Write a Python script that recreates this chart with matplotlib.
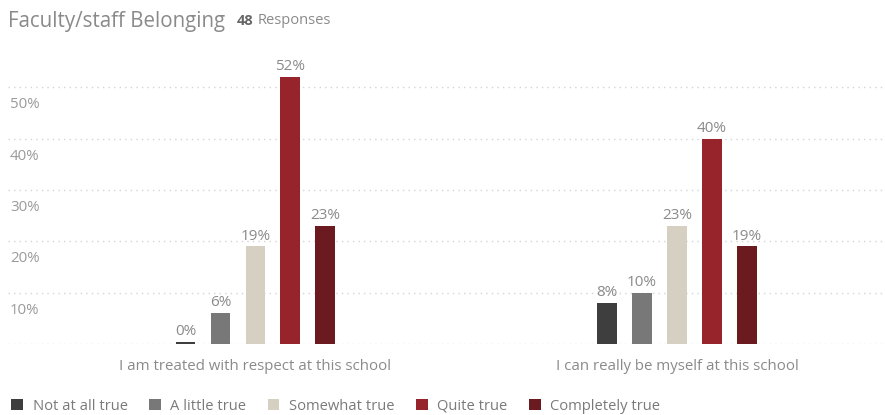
import numpy as np
import matplotlib
matplotlib.use("Agg")
import matplotlib.pyplot as plt
from matplotlib.transforms import ScaledTranslation
from matplotlib.patches import Patch

plt.rcParams['font.family'] = ['Open Sans', 'DejaVu Sans']

questions = ["I am treated with respect at this school",
             "I can really be myself at this school"]
answers = ["Not at all true", "A little true", "Somewhat true",
           "Quite true", "Completely true"]
# percent of responses, one list per answer
not_at_all = [0, 8]
a_little = [6, 10]
somewhat = [19, 23]
quite = [52, 40]
completely = [23, 19]
series = [not_at_all, a_little, somewhat, quite, completely]
colors = ["#3e3e3e", "#787878", "#d6d0c2", "#97242a", "#6b1a1f"]
yticks = [10, 20, 30, 40, 50]

fig = plt.figure(figsize=(8.85, 4.15), dpi=100)
ax = fig.add_axes([8 / 885, 71 / 415, 875 / 885, 289 / 415])

x = np.arange(len(questions))
step = 0.083
width = 0.047
for i, (vals, col) in enumerate(zip(series, colors)):
    pos = x + (i - 2) * step
    bars = ax.bar(pos, vals, width, color=col, zorder=3, label=answers[i])
    for b, v in zip(bars, vals):
        h = max(v, 0.4)
        if v == 0:
            b.set_height(h)
        ax.annotate(f"{v}%", (b.get_x() + b.get_width() / 2, h),
                    xytext=(0, 2), textcoords="offset points",
                    ha="center", va="bottom", fontsize=11, color="#8a8a8a")

ax.set_xlim(-0.587, 1.489)
ax.set_ylim(0, 56.3)

for y in [0] + yticks:
    ax.axhline(y, color="#d4d4d4", lw=1, ls=(0, (1, 3)), zorder=1)

ax.set_yticks(yticks)
ax.set_yticklabels([f"{t}%" for t in yticks])
ax.tick_params(axis="y", length=0, pad=0, labelsize=10.8, labelcolor="#9a9a9a")
shift = ScaledTranslation(0.02, -0.155, fig.dpi_scale_trans)
for lab in ax.get_yticklabels():
    lab.set_horizontalalignment("left")
    lab.set_transform(lab.get_transform() + shift)

ax.set_xticks(x)
ax.set_xticklabels(questions)
ax.tick_params(axis="x", length=0, pad=11, labelsize=10.8, labelcolor="#8a8a8a")

for s in ax.spines.values():
    s.set_visible(False)

fig.text(8 / 885, 1 - 21 / 415, "Faculty/staff Belonging", fontsize=14.8,
         color="#8a8a8a", va="center", ha="left")
fig.text(237 / 885, 1 - 21 / 415, "48", fontsize=10.5, color="#666666",
         fontweight="bold", va="center", ha="left")
fig.text(258 / 885, 1 - 21 / 415, "Responses", fontsize=10.5, color="#8a8a8a",
         va="center", ha="left")

handles = [Patch(facecolor=c, edgecolor="none") for c in colors]
leg = fig.legend(handles, answers, loc="center left",
                 bbox_to_anchor=(-2 / 885, 1 - 406 / 415), ncol=5,
                 frameon=False, fontsize=10.6, handlelength=0.8,
                 handleheight=0.8, handletextpad=0.65, columnspacing=1.45,
                 labelcolor="#7a7a7a")

fig.savefig("out.png", dpi=100)
